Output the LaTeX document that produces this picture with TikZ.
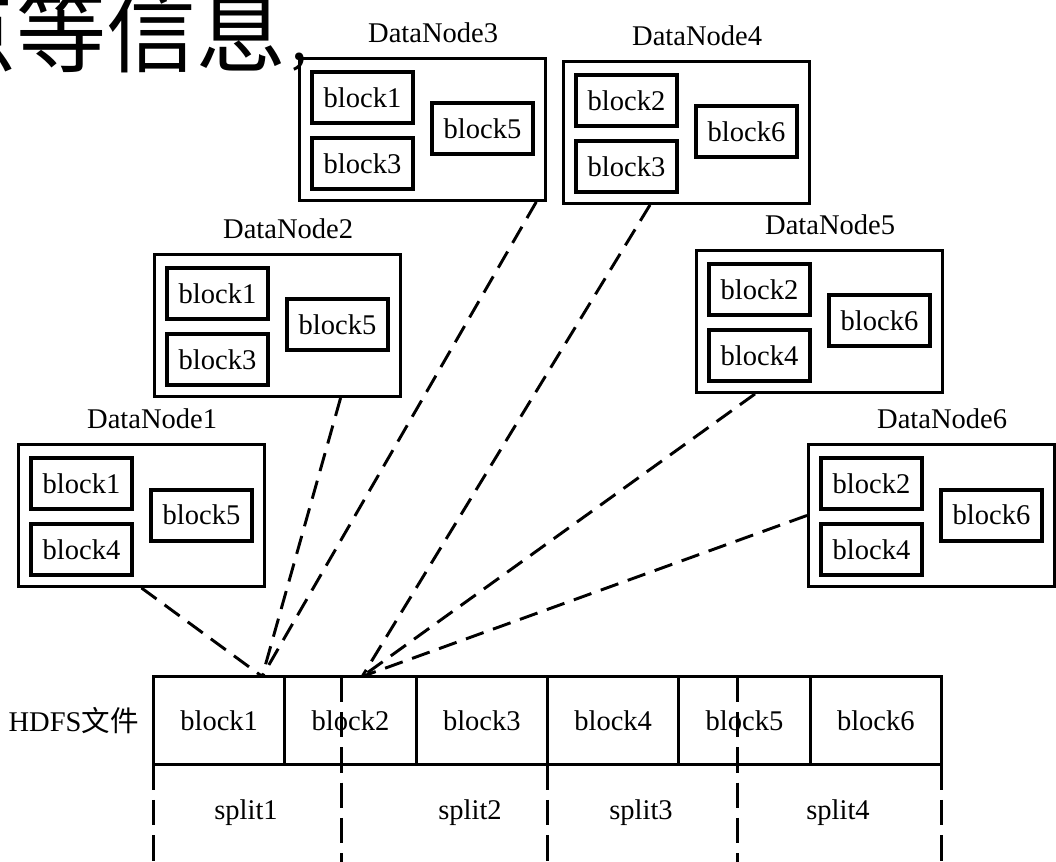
\documentclass[tikz,border=0pt]{standalone}
\usepackage{fontspec}
\setmainfont{Liberation Serif}
\newfontfamily\cjk{Noto Sans CJK SC}
\usetikzlibrary{positioning}

\begin{document}
\begin{tikzpicture}[
    x=0.75pt, y=-0.75pt,
    every node/.style={font=\fontsize{21.4}{25}\selectfont, inner sep=0pt},
    dnbox/.style={draw, line width=2.2pt, minimum width=184.5pt, minimum height=106.5pt, anchor=north west},
    blk/.style={draw, line width=3pt, minimum width=75.75pt, minimum height=38.25pt},
    cell/.style={draw, line width=2.2pt, outer sep=0pt, minimum width=98.5pt, minimum height=66pt},
    link/.style={line width=2.2pt, dash pattern=on 14pt off 7.5pt},
    cut/.style={line width=2.2pt, dash pattern=on 19pt off 7.5pt}
]
\useasboundingbox (0,0) rectangle (1056,862);
\clip (0,0) rectangle (1056,862);

% cut-off heading
\node[anchor=base west, font=\cjk\fontsize{67.5}{70}\selectfont] (head) at (-74,66) {点等信息{\fontsize{40}{40}\selectfont ，}};

% data nodes
\node[dnbox] (dn1) at (17,443) {};
\node[blk, anchor=north west] (d1a) at ([shift={(12,13)}]dn1.north west) {block1};
\node[blk, below=8.25pt of d1a] (d1b) {block4};
\node[blk, right=11.25pt of d1a.south east, yshift=-3pt] (d1c) {block5};
\node[above=10.5pt of dn1.north, xshift=8pt] (t1) {DataNode1};

\node[dnbox] (dn2) at (153,253) {};
\node[blk, anchor=north west] (d2a) at ([shift={(12,13)}]dn2.north west) {block1};
\node[blk, below=8.25pt of d2a] (d2b) {block3};
\node[blk, right=11.25pt of d2a.south east, yshift=-3pt] (d2c) {block5};
\node[above=10.5pt of dn2.north, xshift=8pt] (t2) {DataNode2};

\node[dnbox] (dn3) at (298,57) {};
\node[blk, anchor=north west] (d3a) at ([shift={(12,13)}]dn3.north west) {block1};
\node[blk, below=8.25pt of d3a] (d3b) {block3};
\node[blk, right=11.25pt of d3a.south east, yshift=-3pt] (d3c) {block5};
\node[above=10.5pt of dn3.north, xshift=8pt] (t3) {DataNode3};

\node[dnbox] (dn4) at (562,60) {};
\node[blk, anchor=north west] (d4a) at ([shift={(12,13)}]dn4.north west) {block2};
\node[blk, below=8.25pt of d4a] (d4b) {block3};
\node[blk, right=11.25pt of d4a.south east, yshift=-3pt] (d4c) {block6};
\node[above=10.5pt of dn4.north, xshift=8pt] (t4) {DataNode4};

\node[dnbox] (dn5) at (695,249) {};
\node[blk, anchor=north west] (d5a) at ([shift={(12,13)}]dn5.north west) {block2};
\node[blk, below=8.25pt of d5a] (d5b) {block4};
\node[blk, right=11.25pt of d5a.south east, yshift=-3pt] (d5c) {block6};
\node[above=10.5pt of dn5.north, xshift=8pt] (t5) {DataNode5};

\node[dnbox] (dn6) at (807,443) {};
\node[blk, anchor=north west] (d6a) at ([shift={(12,13)}]dn6.north west) {block2};
\node[blk, below=8.25pt of d6a] (d6b) {block4};
\node[blk, right=11.25pt of d6a.south east, yshift=-3pt] (d6c) {block6};
\node[above=10.5pt of dn6.north, xshift=8pt] (t6) {DataNode6};

% the HDFS file
\node[cell, anchor=north west] (c1) at (153.5,676.5) {block1};
\node[cell, right=0pt of c1] (c2) {block2};
\node[cell, right=0pt of c2] (c3) {block3};
\node[cell, right=0pt of c3] (c4) {block4};
\node[cell, right=0pt of c4] (c5) {block5};
\node[cell, right=0pt of c5] (c6) {block6};
\node[left=11pt of c1, font=\fontsize{21.4}{25}\selectfont] (hdfs) {HDFS{\cjk 文件}};

% splits
\coordinate (bot) at (0,862);
\draw[cut] (c1.south west) -- (c1.south west |- bot);
\draw[cut] ([xshift=-6.5pt]c2.north) -- ([xshift=-6.5pt]c2.north |- bot);
\draw[cut] (c4.south west) -- (c4.south west |- bot);
\draw[cut] ([xshift=-5pt]c5.north) -- ([xshift=-5pt]c5.north |- bot);
\draw[cut] (c6.south east) -- (c6.south east |- bot);
\node (s1) at (246,813) {split1};
\node (s2) at (470,813) {split2};
\node (s3) at (641,813) {split3};
\node (s4) at (838,813) {split4};

% where the blocks are stored
\coordinate (p1) at ([xshift=-17pt]c2.north west);
\coordinate (p2) at ([xshift=58pt]c2.north west);
\draw[link] (dn1.south) -- (p1);
\draw[link] ([xshift=-46pt]dn2.south east) -- (p1);
\draw[link] ([xshift=-8pt]dn3.south east) -- (p1);
\draw[link] ([xshift=66pt]dn4.south west) -- (p2);
\draw[link] ([xshift=45pt]dn5.south west) -- (p2);
\draw[link] (dn6.west) -- (p2);
\end{tikzpicture}
\end{document}
